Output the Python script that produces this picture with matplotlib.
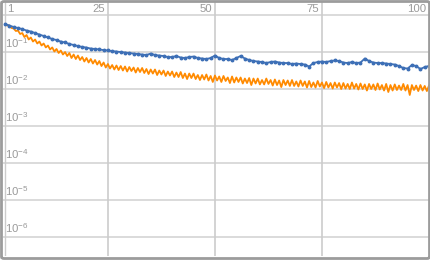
import numpy as np
import matplotlib
matplotlib.use("Agg")
import matplotlib.pyplot as plt
from matplotlib.patches import FancyBboxPatch
from matplotlib.transforms import offset_copy

plt.rcParams['font.family'] = ['Liberation Sans', 'DejaVu Sans']
plt.rcParams['mathtext.default'] = 'regular'

# --- data -------------------------------------------------------------
blue_x = list(range(1, 101))
blue_y = [0.571, 0.520, 0.474, 0.445, 0.418, 0.381, 0.358, 0.326, 0.297, 0.271,
          0.247, 0.225, 0.211, 0.192, 0.181, 0.165, 0.155, 0.145, 0.137, 0.132,
          0.124, 0.121, 0.117, 0.113, 0.110, 0.106, 0.103, 0.100, 0.0969, 0.0939,
          0.0910, 0.0883, 0.0855, 0.0830, 0.0910, 0.0830, 0.0804, 0.0780, 0.0732, 0.0732,
          0.0780, 0.0710, 0.0689, 0.0732, 0.0755, 0.0689, 0.0667, 0.0647, 0.0689, 0.0804,
          0.0689, 0.0647, 0.0647, 0.0608, 0.0689, 0.0780, 0.0667, 0.0608, 0.0571, 0.0554,
          0.0537, 0.0504, 0.0537, 0.0554, 0.0520, 0.0504, 0.0504, 0.0474, 0.0489, 0.0474,
          0.0459, 0.0406, 0.0504, 0.0537, 0.0554, 0.0537, 0.0571, 0.0590, 0.0571, 0.0520,
          0.0504, 0.0537, 0.0504, 0.0520, 0.0667, 0.0571, 0.0520, 0.0504, 0.0504, 0.0489,
          0.0474, 0.0459, 0.0418, 0.0370, 0.0358, 0.0445, 0.0418, 0.0347, 0.0393, 0.0418]

orange_x = list(np.arange(1, 100.5, 0.5))
orange_y = [0.571, 0.520, 0.520, 0.445, 0.432, 0.370, 0.381, 0.307, 0.326, 0.254,
            0.288, 0.218, 0.247, 0.192, 0.218, 0.170, 0.192, 0.150, 0.170, 0.133,
            0.150, 0.117, 0.133, 0.103, 0.121, 0.0940, 0.110, 0.0856, 0.100, 0.0780,
            0.0940, 0.0689, 0.0856, 0.0647, 0.0805, 0.0608, 0.0732, 0.0554, 0.0689, 0.0521,
            0.0647, 0.0489, 0.0608, 0.0459, 0.0571, 0.0418, 0.0521, 0.0381, 0.0474, 0.0358,
            0.0445, 0.0337, 0.0432, 0.0326, 0.0418, 0.0316, 0.0406, 0.0297, 0.0393, 0.0307,
            0.0381, 0.0279, 0.0370, 0.0288, 0.0370, 0.0271, 0.0347, 0.0254, 0.0337, 0.0262,
            0.0337, 0.0239, 0.0316, 0.0247, 0.0316, 0.0225, 0.0297, 0.0232, 0.0297, 0.0211,
            0.0279, 0.0211, 0.0288, 0.0198, 0.0262, 0.0186, 0.0262, 0.0198, 0.0262, 0.0186,
            0.0239, 0.0175, 0.0239, 0.0181, 0.0247, 0.0170, 0.0225, 0.0155, 0.0232, 0.0170,
            0.0218, 0.0155, 0.0225, 0.0165, 0.0205, 0.0145, 0.0218, 0.0150, 0.0205, 0.0155,
            0.0205, 0.0141, 0.0192, 0.0145, 0.0198, 0.0128, 0.0192, 0.0141, 0.0192, 0.0133,
            0.0175, 0.0133, 0.0192, 0.0137, 0.0175, 0.0124, 0.0181, 0.0128, 0.0170, 0.0113,
            0.0175, 0.0128, 0.0170, 0.0121, 0.0175, 0.0121, 0.0160, 0.0117, 0.0170, 0.0121,
            0.0160, 0.0110, 0.0165, 0.0113, 0.0150, 0.0110, 0.0165, 0.0117, 0.0150, 0.0106,
            0.0155, 0.0110, 0.0145, 0.0103, 0.0150, 0.0110, 0.0145, 0.0100, 0.0145, 0.0103,
            0.0137, 0.0100, 0.0150, 0.0103, 0.0137, 0.0097, 0.0141, 0.0100, 0.0133, 0.0091,
            0.0137, 0.0100, 0.0133, 0.0094, 0.0141, 0.0097, 0.0128, 0.0091, 0.0137, 0.0083,
            0.0128, 0.0091, 0.0133, 0.0094, 0.0124, 0.0094, 0.0137, 0.0091, 0.0128, 0.0069,
            0.0128, 0.0094, 0.0124, 0.0088, 0.0128, 0.0091, 0.0121, 0.0088, 0.0124]

x_ticks = [1, 25, 50, 75, 100]
x_tick_labels = ['1', '25', '50', '75', '100']
y_ticks = [1e-1, 1e-2, 1e-3, 1e-4, 1e-5, 1e-6]
y_tick_labels = [r'$10^{-1}$', r'$10^{-2}$', r'$10^{-3}$', r'$10^{-4}$', r'$10^{-5}$', r'$10^{-6}$']

# --- figure -----------------------------------------------------------
W, H = 431, 260
fig = plt.figure(figsize=(W / 100, H / 100), dpi=100)
ax = fig.add_axes([3 / W, 4 / H, 426 / W, 254 / H])
ax.set_yscale('log')
ax.set_xlim(0.5, 100)
ax.set_ylim(3.06e-7, 2.25)

grid_c = '#dadada'
for yv in [1e0] + y_ticks:
    ax.axhline(yv, color=grid_c, lw=1.4, zorder=1)
for xv in [25, 50, 75]:
    ax.axvline(xv, color='#cccccc', lw=1.2, zorder=1)
ax.axvline(1, color='#cccccc', lw=1.0, zorder=1)

ax.plot(orange_x, orange_y, color='#ff8a00', lw=1.3, zorder=3)
ax.plot(blue_x, blue_y, color='#3d6fb6', lw=1.3, marker='o', ms=1.8,
        mec='#3d6fb6', mfc='#3d6fb6', zorder=4)

for s in ax.spines.values():
    s.set_visible(False)
ax.set_xticks([])
ax.set_yticks([])
ax.minorticks_off()

tc = '#9a9a9a'
for xv, lab in zip(x_ticks, x_tick_labels):
    if xv == 1:
        tr = offset_copy(ax.transData, fig=fig, x=1.5, y=1.5, units='dots')
        ax.text(xv, 1.0, lab, ha='left', va='bottom', fontsize=8.2, color=tc, transform=tr)
    else:
        tr = offset_copy(ax.transData, fig=fig, x=-3, y=1.5, units='dots')
        ax.text(xv, 1.0, lab, ha='right', va='bottom', fontsize=8.2, color=tc, transform=tr)
for yv, lab in zip(y_ticks, y_tick_labels):
    tr = offset_copy(ax.transData, fig=fig, x=0, y=2, units='dots')
    ax.text(1.0, yv, lab, ha='left', va='bottom', fontsize=8.2, color=tc, transform=tr)

border = FancyBboxPatch((1.5 / W, 1.5 / H), (W - 3) / W, (H - 3) / H,
                        boxstyle='round,pad=0,rounding_size=0.006',
                        transform=fig.transFigure, fill=False,
                        edgecolor='#9c9c9c', lw=2.0, zorder=10)
fig.patches.append(border)

fig.savefig('out.png', dpi=100)
